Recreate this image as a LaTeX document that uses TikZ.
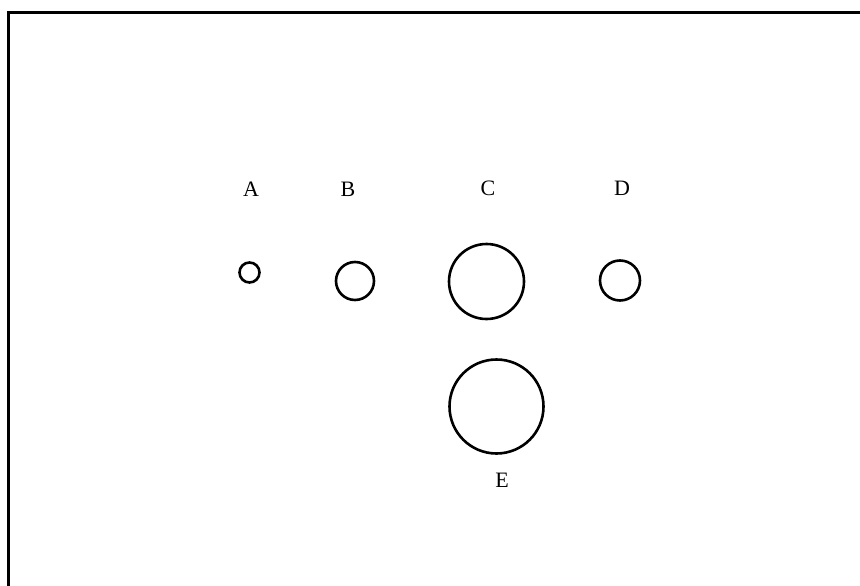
\documentclass[tikz,border=0pt]{standalone}
\usepackage{fontspec}
\setmainfont{Liberation Serif}
\begin{document}
\begin{tikzpicture}[x=1pt,y=-1pt,
  ring/.style={circle,draw,line width=2.6pt,inner sep=0pt,minimum size=#1},
  lbl/.style={font=\fontsize{22}{24}\selectfont,inner sep=0pt}]
\useasboundingbox (0,0) rectangle (860,586);
\draw[line width=3pt] (8.5,590) -- (8.5,13) -- (865,13);
\node[ring=20pt] (a) at (249.5,272.5) {};
\node[ring=38pt] (b) at (355,281) {};
\node[ring=75pt] (c) at (486.5,281.5) {};
\node[ring=40pt] (d) at (620,280.5) {};
\node[ring=94pt] (e) at (496.5,406.5) {};
\node[lbl] (la) at (251,189) {A};
\node[lbl] (lb) at (348,189) {B};
\node[lbl] (lc) at (488,188) {C};
\node[lbl] (ld) at (622,188) {D};
\node[lbl] (le) at (502,480) {E};
\end{tikzpicture}
\end{document}
